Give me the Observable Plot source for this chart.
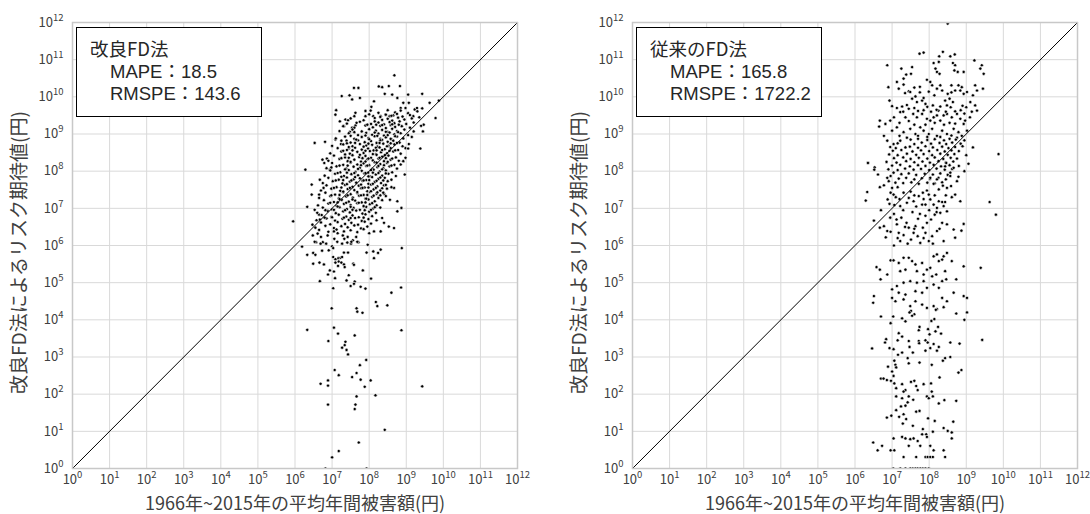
<!DOCTYPE html>
<html><head><meta charset="utf-8">
<script src="https://cdn.jsdelivr.net/npm/d3@7"></script>
<script src="https://cdn.jsdelivr.net/npm/@observablehq/plot@0.6"></script>
<style>
body{margin:0;background:#fff;}
#wrap{position:relative;width:1090px;height:514px;display:flex;overflow:hidden;}
.box{position:absolute;top:27px;width:186px;height:90px;box-sizing:border-box;border:1.5px solid #000;background:#fff;
 font-family:"Noto Sans CJK JP",sans-serif;font-size:18.5px;line-height:22px;color:#262626;padding:9px 0 0 13px;}
.box .ind{padding-left:20px;font-family:"Liberation Sans","Noto Sans CJK JP",sans-serif;}
.box .ind.first{margin-top:2px;}
</style></head>
<body><div id="wrap"></div>
<script>
// ---- data: [log10(平均年間被害額), log10(リスク期待値)] ----
const tickExponents = [0,1,2,3,4,5,6,7,8,9,10,11,12];
const xTitle = "1966年~2015年の平均年間被害額(円)";
const yTitle = "改良FD法によるリスク期待値(円)";
const panelTitles = ["改良FD法", "従来のFD法"];
const mapeValues = ["18.5", "165.8"];
const rmspeValues = ["143.6", "1722.2"];

const leftSparse = [[8.68,10.58],[7.59,10.24],[7.71,10.24],[8.26,10.28],[8.35,10.26],[8.53,10.29],[8.83,10.29],
[7.26,10.02],[7.47,10.04],[7.54,9.93],[7.75,9.97],[8.42,10.08],[8.62,10.06],[8.76,9.97],[9.05,10.06],[9.43,10.08],
[8.13,9.88],[8.06,9.73],[8.04,9.63],[7.11,9.64],[7.09,9.52],[7.63,9.57],[7.21,9.34],[7.36,9.39],[7.43,9.37],[7.9,9.48],
[8.11,9.48],[8.15,9.34],[8.19,9.25],[8.31,9.48],[8.44,9.52],[8.55,9.48],[8.65,9.5],[8.85,9.7],[8.98,9.7],[8.92,9.84],
[9.07,9.84],[9.23,9.66],[9.29,9.7],[9.43,9.69],[9.19,9.48],[9.47,9.25],[9.45,9.07],[9.79,9.43],[9.63,9.84],[9.88,9.9],
[9.38,8.61],[9.07,8.73],[8.98,8.62],[6.53,8.76],[6.81,8.79],[6.74,8.31],[6.79,8.22],[6.86,8.34],[6.28,8.04],
[7.32,9.21],[7.48,9.06],[7.54,9.17],[7.63,9.23],[7.66,9.3],[7.09,8.85],[7.24,8.73],[7.39,8.82],[7.45,8.61],[7.27,8.54],
[6.94,8.04],[6.98,8.1],[6.67,7.77],[6.45,7.64],[6.45,7.37],[6.65,7.37],[6.77,7.55],
[6.33,7.04],[6.53,6.96],[6.47,6.56],[6.65,6.83],[6.67,6.7],[5.95,6.65],
[6.19,5.97],[6.33,5.75],[6.49,5.8],[6.55,5.75],[6.73,5.86],
[8.67,7.55],[8.56,7.23],[8.41,7.38],
[8.53,6.51],[8.67,6.47],[8.35,6.74],[8.4,6.61],[8.13,6.38],[8.31,6.38],[7.96,6.02],[8.11,5.84],[8.31,5.89],[8.24,5.8],
[8.85,8.18],[8.96,7.91],[8.98,8.36],[8.92,8.27],[8.76,6.92],[8.87,7.01],[8.76,7.19],[8.88,5.93]];

const leftCore = [[7.9,9.62],[8.25,9.57],[8.5,9.64],[8.7,9.58],[8.85,9.63],[9.05,9.56],[9.3,9.61],
[7.6,9.48],[8.0,9.53],[8.3,9.46],[8.45,9.52],[8.6,9.49],[8.75,9.54],[8.9,9.47],[9.1,9.51],[9.35,9.45],
[7.5,9.42],[7.85,9.37],[8.15,9.43],[8.35,9.38],[8.5,9.41],[8.62,9.36],[8.78,9.44],[8.95,9.39],[9.15,9.42],
[7.4,9.28],[7.75,9.33],[8.05,9.27],[8.25,9.31],[8.4,9.26],[8.55,9.32],[8.68,9.29],[8.82,9.34],[9.0,9.27],[9.2,9.31],
[7.3,9.21],[7.6,9.17],[7.9,9.23],[8.1,9.18],[8.3,9.22],[8.45,9.16],[8.58,9.24],[8.7,9.19],[8.88,9.21],[9.1,9.17],[9.4,9.22],
[7.2,9.08],[7.55,9.12],[7.8,9.07],[8.0,9.13],[8.18,9.09],[8.35,9.11],[8.5,9.06],[8.62,9.14],[8.75,9.08],[8.95,9.12],[9.2,9.07],
[7.45,9.02],[7.7,8.97],[7.92,9.03],[8.08,8.98],[8.25,9.01],[8.4,8.96],[8.55,9.04],[8.68,8.99],[8.85,9.02],[9.05,8.97],
[7.1,8.88],[7.35,8.93],[7.6,8.87],[7.8,8.92],[7.98,8.89],[8.15,8.94],[8.3,8.87],[8.45,8.91],[8.6,8.86],[8.75,8.93],[8.92,8.88],[9.15,8.92],
[7.25,8.82],[7.5,8.77],[7.7,8.83],[7.88,8.78],[8.05,8.81],[8.2,8.76],[8.35,8.84],[8.5,8.79],[8.65,8.82],[8.82,8.77],
[7.0,8.68],[7.3,8.72],[7.55,8.67],[7.75,8.73],[7.92,8.69],[8.08,8.71],[8.22,8.66],[8.38,8.74],[8.52,8.68],[8.68,8.72],[8.9,8.67],
[7.15,8.62],[7.4,8.57],[7.62,8.63],[7.8,8.58],[7.97,8.61],[8.12,8.56],[8.28,8.64],[8.42,8.59],[8.58,8.62],[8.78,8.57],[9.05,8.61],
[6.95,8.48],[7.25,8.53],[7.48,8.47],[7.68,8.52],[7.85,8.49],[8.02,8.54],[8.18,8.46],[8.32,8.51],[8.48,8.48],[8.65,8.53],[8.85,8.47],
[7.05,8.42],[7.35,8.37],[7.55,8.43],[7.73,8.38],[7.9,8.41],[8.05,8.36],[8.2,8.44],[8.35,8.39],[8.52,8.42],[8.72,8.37],
[6.9,8.28],[7.2,8.33],[7.42,8.27],[7.6,8.31],[7.78,8.26],[7.95,8.32],[8.1,8.29],[8.25,8.34],[8.4,8.27],[8.58,8.31],[8.8,8.28],
[7.0,8.22],[7.3,8.17],[7.5,8.23],[7.68,8.18],[7.85,8.21],[8.0,8.16],[8.15,8.24],[8.3,8.19],[8.48,8.22],[8.68,8.17],
[6.85,8.08],[7.12,8.13],[7.38,8.07],[7.58,8.12],[7.75,8.09],[7.92,8.14],[8.08,8.06],[8.22,8.11],[8.38,8.08],[8.55,8.13],[8.75,8.07],
[6.95,8.02],[7.22,7.97],[7.45,8.03],[7.63,7.98],[7.8,8.01],[7.97,7.96],[8.12,8.04],[8.28,7.99],[8.45,8.02],[8.62,7.97],
[6.8,7.88],[7.08,7.93],[7.32,7.87],[7.52,7.92],[7.7,7.89],[7.87,7.94],[8.02,7.86],[8.18,7.91],[8.35,7.88],[8.52,7.93],[8.72,7.87],
[6.9,7.82],[7.18,7.77],[7.4,7.83],[7.58,7.78],[7.75,7.81],[7.92,7.76],[8.08,7.84],[8.25,7.79],[8.42,7.82],[8.6,7.77],
[6.75,7.68],[7.02,7.73],[7.28,7.67],[7.48,7.72],[7.65,7.69],[7.82,7.74],[7.98,7.66],[8.15,7.71],[8.32,7.68],[8.5,7.73],
[6.85,7.62],[7.12,7.57],[7.35,7.63],[7.55,7.58],[7.72,7.61],[7.88,7.56],[8.05,7.64],[8.22,7.59],[8.4,7.62],[8.6,7.57],
[6.7,7.48],[6.98,7.53],[7.22,7.47],[7.42,7.52],[7.6,7.49],[7.78,7.54],[7.95,7.46],[8.12,7.51],[8.3,7.48],[8.48,7.53],
[6.82,7.42],[7.08,7.37],[7.3,7.43],[7.5,7.38],[7.68,7.41],[7.85,7.36],[8.02,7.44],[8.2,7.39],[8.38,7.42],
[6.65,7.28],[6.95,7.33],[7.18,7.27],[7.38,7.32],[7.56,7.29],[7.73,7.34],[7.9,7.26],[8.08,7.31],[8.25,7.28],[8.45,7.33],
[6.78,7.22],[7.05,7.17],[7.26,7.23],[7.45,7.18],[7.62,7.21],[7.8,7.16],[7.98,7.24],[8.15,7.19],[8.35,7.22],
[6.62,7.08],[6.9,7.13],[7.12,7.07],[7.32,7.12],[7.5,7.09],[7.68,7.14],[7.85,7.06],[8.02,7.11],[8.2,7.08],
[6.75,7.02],[7.0,6.97],[7.2,7.03],[7.4,6.98],[7.58,7.01],[7.75,6.96],[7.92,7.04],[8.1,6.99],[8.3,7.02],
[6.6,6.88],[6.88,6.93],[7.1,6.87],[7.3,6.92],[7.48,6.89],[7.65,6.94],[7.82,6.86],[8.0,6.91],[8.18,6.88],
[6.72,6.82],[6.98,6.77],[7.18,6.83],[7.38,6.78],[7.55,6.81],[7.72,6.76],[7.9,6.84],[8.08,6.79],
[6.58,6.68],[6.85,6.73],[7.08,6.67],[7.28,6.72],[7.45,6.69],[7.62,6.74],[7.8,6.66],[7.98,6.71],[8.2,6.68],
[6.7,6.62],[6.95,6.57],[7.15,6.63],[7.35,6.58],[7.52,6.61],[7.7,6.56],[7.88,6.64],[8.05,6.59],
[6.55,6.48],[6.82,6.53],[7.05,6.47],[7.25,6.52],[7.42,6.49],[7.6,6.54],[7.78,6.46],[7.95,6.51],
[6.65,6.42],[6.9,6.37],[7.12,6.43],[7.32,6.38],[7.5,6.41],[7.68,6.36],[7.85,6.44],
[7.65,8.85],[8.0,8.86],[8.3,8.83],[8.58,8.87],[7.45,8.65],[7.85,8.66],[8.18,8.63],[8.48,8.67],
[7.35,8.45],[7.75,8.44],[8.1,8.46],[8.42,8.43],[7.5,8.25],[7.9,8.26],[8.2,8.23],[8.5,8.25],
[7.35,8.05],[7.7,8.06],[8.05,8.03],[8.35,8.05],[7.25,7.85],[7.62,7.84],[7.98,7.86],[8.3,7.83],
[7.4,7.65],[7.78,7.64],[8.1,7.66],[8.45,7.63],[7.3,7.45],[7.68,7.44],[8.05,7.46],[8.22,7.43],
[7.2,7.25],[7.55,7.24],[7.92,7.26],[7.15,7.05],[7.5,7.04],[7.85,7.06],[8.15,7.03]];

const leftDense = [[7.95,9.25],[8.35,9.24],[8.62,9.26],[8.8,9.25],[7.6,9.05],[8.15,9.04],[8.45,9.06],[8.78,9.05],
[7.5,8.95],[7.9,8.96],[8.22,8.95],[8.5,8.97],[8.7,8.94],[7.4,8.75],[7.62,8.76],[7.98,8.74],[8.28,8.76],[8.58,8.75],[8.75,8.76],
[7.3,8.55],[7.55,8.56],[7.9,8.55],[8.2,8.56],[8.35,8.57],[8.55,8.55],[8.7,8.56],
[7.25,8.35],[7.45,8.36],[7.82,8.35],[7.98,8.34],[8.28,8.36],[8.45,8.35],[8.62,8.34],
[7.2,8.15],[7.42,8.15],[7.78,8.16],[7.95,8.15],[8.25,8.14],[8.4,8.16],[8.6,8.15],
[7.15,7.95],[7.4,7.96],[7.6,7.95],[7.9,7.95],[8.1,7.96],[8.25,7.95],[8.45,7.94],
[7.1,7.75],[7.3,7.76],[7.52,7.75],[7.85,7.75],[8.0,7.76],[8.2,7.74],[8.38,7.75],
[7.05,7.55],[7.25,7.56],[7.48,7.55],[7.82,7.55],[7.98,7.56],[8.18,7.55],[8.35,7.54],
[6.98,7.35],[7.2,7.36],[7.42,7.35],[7.78,7.35],[7.95,7.36],[8.12,7.34],[8.3,7.35],
[6.95,7.15],[7.15,7.16],[7.38,7.15],[7.72,7.15],[7.9,7.16],[8.08,7.14],
[6.82,6.95],[7.05,6.96],[7.35,6.95],[7.55,6.96],[7.88,6.95],[8.05,6.96],
[6.8,6.75],[7.0,6.76],[7.32,6.75],[7.5,6.74],[7.85,6.75]];

const leftLow = [[6.48,6.27],[6.61,6.32],[6.70,6.23],[6.88,6.27],[7.05,6.38],[7.15,6.33],[7.29,6.27],[7.42,6.23],[7.56,6.14],[7.65,6.23],
[6.57,6.09],[6.75,6.09],[6.84,6.05],[7.06,6.18],[7.33,6.18],[7.51,6.05],[7.71,6.09],[8.0,6.33],
[6.53,6.10],[6.69,6.05],[7.0,5.98],[7.14,6.10],[7.27,6.05],[7.41,6.08],[7.52,6.10],[7.68,6.10],
[6.91,5.87],[7.03,5.93],[7.32,5.81],[7.43,5.81],[7.93,5.81],[8.13,5.66],
[7.03,5.69],[7.09,5.63],[7.17,5.66],[7.23,5.67],[7.09,5.54],[7.18,5.57],[7.25,5.54],[7.16,5.45],[7.32,5.49],[7.34,5.42],[7.27,5.69],
[6.49,5.51],[6.66,5.54],[6.78,5.49],[6.94,5.33],[6.89,5.22],[7.05,5.30],[7.08,5.12],[7.57,5.51],[7.59,5.48],[7.45,5.20],[7.39,5.06],
[7.61,5.03],[7.59,4.97],[7.50,4.91],[7.77,4.89],[7.90,4.84],[7.83,5.33],[8.05,5.11],[6.67,5.04],[7.03,4.85],
[8.60,4.73],[8.86,4.87],[8.18,4.48],[8.22,4.37],[8.49,4.39],[6.99,4.31],[7.66,4.31],[7.68,4.22],[7.82,4.19],
[6.33,3.73],[8.87,3.72],[7.05,3.79],[7.16,3.63],[6.90,3.43],[7.61,3.58],[7.36,3.41],[7.34,3.32],[7.27,3.25],[7.39,3.19],[7.43,3.07],
[7.92,2.92],[7.75,2.78],[7.66,2.57],[7.07,2.65],[7.18,2.51],[7.54,2.46],[7.77,2.39],[8.04,2.37],[6.69,2.28],[6.89,2.37],[6.89,2.23],[7.88,2.20],
[9.43,2.21],[7.66,1.94],[8.17,1.97],[6.89,1.72],[7.63,1.72],[7.61,1.60],[8.42,1.04],[7.72,0.70],[7.18,0.47],[7.0,0.30],
[6.82,0],[7.93,0]];

const rightUpper = [[8.50,11.97],[7.74,11.16],[7.85,11.19],[8.37,11.21],[8.27,11.09],[8.57,11.09],[8.69,11.14],
[9.22,10.98],[9.42,10.85],[9.38,10.76],[6.87,10.85],[7.25,10.76],[7.38,10.60],[7.54,10.80],[7.51,10.62],[7.31,10.49],[7.13,10.40],
[8.12,10.91],[8.26,10.94],[8.17,10.76],[8.21,10.67],[8.28,10.62],[8.64,10.91],[8.70,10.85],[8.77,10.67],[8.68,10.71],[8.93,10.67],[9.47,10.62],
[6.90,10.26],[6.93,9.90],[7.18,10.22],[7.31,10.33],[7.45,10.15],[7.49,10.13],[7.63,10.01],[7.67,9.86],[7.54,9.95],
[7.94,10.46],[8.03,10.40],[8.08,10.31],[7.99,10.14],[8.21,10.22],[8.30,10.31],[8.35,10.17],[8.14,10.04],
[8.60,10.31],[8.70,10.17],[8.79,10.31],[8.88,10.26],[8.93,10.08],[8.84,10.17],[9.02,10.13],[9.18,10.04],
[9.24,10.31],[9.29,10.17],[9.45,10.22],[7.81,9.90],[7.90,9.81],[7.85,9.97],
[8.43,9.90],[8.48,9.77],[8.55,9.95],[8.64,9.86],[8.58,9.72],[9.11,9.86],[9.24,9.77],[9.29,9.63],
[7.13,9.70],[7.27,9.74],[7.22,9.59],[7.36,9.45],[7.45,9.68],[7.57,9.54],[6.67,9.36],[6.82,9.27],[6.65,9.20],[6.95,9.36],
[7.67,9.45],[7.81,9.54],[7.94,9.41],[8.03,9.36],[8.12,9.45],[8.21,9.50],[8.30,9.36],[8.39,9.50],[8.48,9.54],[8.61,9.45],[8.75,9.54],[8.84,9.41],[8.97,9.36],
[7.0,9.09],[7.13,9.18],[7.31,9.05],[7.49,9.14],[7.63,9.0],[7.76,9.18],[7.85,9.09],[7.99,9.0],[8.08,9.14],[8.21,8.95],[8.35,9.09],[8.48,9.0],[8.66,9.14],[8.79,9.05],[8.88,8.95],[9.02,9.09],[8.93,9.27],
[6.78,8.95],[6.87,8.82],[7.04,8.73],[7.22,8.82],[7.36,8.64],[9.18,8.64],[9.87,8.46],[6.35,8.23],[6.53,8.10],
[7.6,10.25],[7.75,10.27],[7.35,10.1],[7.75,10.12],[8.5,10.08],[8.6,10.12],
[7.0,9.75],[7.4,9.78],[7.95,9.73],[8.1,9.77],[8.3,9.74],[8.9,9.76],[9.0,9.72],[7.7,9.62],[7.85,9.64],[8.05,9.6],[8.25,9.63],[8.7,9.61],[8.85,9.64],
[7.05,9.45],[7.2,9.3],[7.45,9.35],[7.6,9.25],[7.9,9.25],[8.15,9.3],[8.4,9.25],[8.55,9.3],[8.7,9.28],[9.1,9.45],
[7.2,8.95],[7.4,8.9],[7.7,8.95],[7.95,8.92],[8.3,8.92],[8.6,8.96],[8.75,8.9],
[7.3,9.6],[7.6,9.7],[8.2,9.65],[8.45,9.6],[8.95,9.55],[9.15,9.6]];

const rightCore = [[7.5,8.85],[7.7,8.87],[7.95,8.84],[8.15,8.86],[8.4,8.83],[8.55,8.87],[8.72,8.85],[8.95,8.83],
[7.15,8.75],[7.6,8.73],[7.8,8.77],[8.05,8.74],[8.28,8.76],[8.46,8.73],[8.62,8.77],[8.85,8.74],
[6.95,8.65],[7.1,8.62],[7.48,8.66],[7.7,8.63],[7.9,8.67],[8.1,8.64],[8.35,8.66],[8.52,8.62],[8.7,8.65],[8.9,8.67],
[7.02,8.55],[7.25,8.57],[7.55,8.53],[7.78,8.56],[8.0,8.54],[8.22,8.57],[8.42,8.53],[8.6,8.56],[8.8,8.54],
[6.92,8.45],[7.15,8.43],[7.4,8.47],[7.65,8.44],[7.85,8.46],[8.08,8.43],[8.3,8.47],[8.5,8.44],[8.68,8.46],[9.0,8.43],
[7.05,8.35],[7.3,8.37],[7.5,8.33],[7.72,8.36],[7.95,8.34],[8.15,8.37],[8.38,8.33],[8.58,8.36],[8.75,8.34],
[6.85,8.25],[7.12,8.23],[7.38,8.27],[7.6,8.24],[7.82,8.26],[8.02,8.23],[8.25,8.27],[8.45,8.24],[8.65,8.26],
[7.0,8.15],[7.22,8.17],[7.48,8.13],[7.7,8.16],[7.9,8.14],[8.12,8.17],[8.32,8.13],[8.55,8.16],[8.8,8.14],
[6.9,8.05],[7.15,8.03],[7.35,8.07],[7.58,8.04],[7.78,8.06],[8.0,8.03],[8.2,8.07],[8.42,8.04],[8.62,8.06],
[7.25,7.92],[7.45,7.94],[7.65,7.9],[7.88,7.93],[8.1,7.91],[8.3,7.94],[8.5,7.9],
[7.18,7.8],[7.38,7.82],[7.6,7.78],[7.8,7.81],[8.02,7.79],[8.25,7.82],[8.45,7.78],
[7.3,7.68],[7.52,7.7],[7.72,7.66],[7.95,7.69],[8.15,7.67],[8.35,7.7]];

const rightMid = [[6.35,8.22],[6.52,8.04],[6.62,7.91],[6.67,7.57],[6.78,7.62],[6.33,7.44],[6.29,7.21],
[6.87,7.82],[6.91,7.73],[6.96,7.87],[7.04,7.96],[7.09,7.69],[7.15,7.57],[7.0,7.55],[6.96,7.42],[7.04,7.37],[6.88,7.24],[6.93,7.12],[7.06,7.09],[7.22,7.06],
[7.31,7.42],[7.45,7.28],[7.58,7.19],[7.72,7.33],[7.83,7.42],[7.94,7.48],[7.99,7.37],[8.03,7.24],[7.81,7.10],[7.90,7.10],[8.12,7.10],[8.26,7.19],[8.35,7.17],[8.43,7.17],
[8.21,7.01],[8.30,6.88],[8.39,7.06],[8.48,6.92],[8.61,7.30],[8.70,7.37],[8.84,7.19],[8.93,6.58],[8.87,6.40],[8.66,6.43],[8.70,6.21],
[9.63,7.17],[9.80,6.83],[9.06,8.20],[8.95,8.0],[8.79,7.85],[8.75,7.73],[8.59,7.60],[8.48,7.55],[8.37,7.61],[8.21,7.78],[8.12,7.66],[8.03,7.82],[8.26,7.51],[8.57,7.96],[8.66,8.09],[8.43,8.13],[8.57,7.87],[8.46,8.22],
[6.51,6.67],[6.67,6.48],[6.78,6.52],[6.87,6.39],[6.83,6.22],[6.96,6.37],[7.12,6.70],[7.13,6.57],[7.18,6.34],[7.22,6.12],[7.31,6.28],[7.39,6.61],[7.45,6.48],[7.51,6.16],
[7.58,6.34],[7.63,6.52],[7.69,6.25],[7.76,6.07],[7.83,6.48],[7.90,6.34],[7.94,6.61],[7.99,6.12],[8.08,6.25],[8.15,6.83],[8.21,6.39],[8.35,6.61],[8.39,6.12],[8.48,6.57],
[7.05,6.85],[7.25,6.75],[7.55,6.9],[7.7,6.72],[7.42,6.05],[7.05,6.0],[7.3,6.95],[8.05,6.7],[8.28,6.45],[7.85,6.2],[8.0,6.95],[7.6,6.45],[7.15,6.2],[6.95,6.75],[8.1,6.05],[7.75,6.85],[7.35,6.5],[7.9,6.8],[8.2,6.9],[6.7,6.95],
[7.2,7.25],[7.4,7.15],[7.65,7.05],[7.5,7.45],[7.1,7.3],[7.85,7.25],[8.15,7.35],[8.45,7.35],[7.6,7.35]];

const rightLow = [[6.58,5.42],[6.67,5.35],[6.69,5.09],[6.87,5.22],[6.96,5.60],[7.04,5.60],[7.18,5.53],[7.22,5.31],[7.36,5.35],[7.31,5.67],[7.45,5.67],[7.54,5.58],[7.63,5.49],[7.81,5.53],
[7.67,5.31],[7.85,5.22],[7.94,5.35],[8.03,5.40],[8.12,5.71],[8.21,5.76],[8.26,5.58],[8.35,5.62],[8.39,5.71],[8.48,5.80],[8.61,5.58],[8.43,5.31],[8.19,5.22],[8.08,5.17],
[7.85,5.04],[7.67,5.0],[7.49,5.04],[7.31,5.0],[7.13,4.91],[7.0,4.82],[7.18,4.73],[7.36,4.68],[7.63,4.77],[7.81,4.73],[7.94,4.86],[8.12,4.95],[8.26,4.86],[8.35,5.04],[8.46,5.09],
[8.93,4.64],[6.51,4.64],[6.49,4.46],[7.0,4.59],[7.09,4.50],[7.31,4.55],[7.49,4.37],[7.63,4.50],[7.81,4.41],[7.94,4.32],[8.12,4.37],[8.39,4.34],[8.48,4.50],[8.35,4.59],
[8.66,4.73],[8.73,5.09],[9.02,4.59],[8.93,5.44],[9.39,5.40],
[8.21,4.29],[7.51,4.24],[7.60,4.15],[7.47,4.20],[7.54,4.11],
[6.70,4.09],[7.03,4.09],[6.96,3.91],[7.27,4.04],[7.36,3.96],[8.06,3.97],[8.14,4.02],[8.18,4.27],[8.73,4.17],[9.02,4.20],[8.95,4.0],[9.43,3.46],
[7.74,3.81],[7.72,3.72],[7.97,3.75],[8.01,3.61],[8.17,3.69],[8.24,3.81],[8.32,3.63],[7.18,3.64],[7.27,3.55],[7.15,3.45],[7.45,3.43],[7.72,3.43],[7.90,3.45],[7.96,3.39],
[8.12,3.35],[8.26,3.27],[8.21,3.17],[8.03,3.24],[7.90,3.17],[7.73,3.37],[7.47,3.27],[7.56,3.12],[8.57,3.39],[8.82,3.36],[6.84,3.48],[6.81,3.39],[6.93,3.24],[7.04,3.21],[6.46,3.23],[7.16,3.06],[7.27,3.12],
[7.42,2.97],[7.45,2.83],[7.74,2.85],[8.07,2.79],[8.37,2.90],[8.43,2.97],[8.57,3.0],[7.06,2.90],[7.09,2.79],[7.11,2.72],[6.89,2.74],[7.0,2.61],[7.04,2.49],[6.70,2.42],[6.77,2.42],
[6.86,2.38],[6.97,2.36],[7.06,2.29],[7.11,2.16],[7.27,2.27],[7.51,2.33],[7.60,2.36],[7.65,2.22],[7.69,2.11],[7.36,2.11],[7.31,2.07],[7.85,2.27],[8.05,2.29],[8.07,2.07],[8.28,2.45],[8.79,2.58],[8.87,2.65],
[7.11,1.94],[7.27,1.89],[7.45,1.94],[7.57,1.85],[7.42,1.78],[7.36,1.69],[7.24,1.67],[7.11,1.57],[7.31,1.46],[7.38,1.33],[7.29,1.21],[7.65,1.53],[7.74,1.55],[7.94,1.94],[7.99,1.89],
[8.10,1.94],[8.26,1.75],[8.41,1.84],[8.73,1.82],[6.86,1.37],[6.98,1.42],[7.19,1.39],[7.56,1.15],[7.97,1.35],[8.15,1.28],[8.65,1.26],
[7.83,1.06],[7.81,0.92],[7.92,0.92],[7.94,0.85],[8.10,0.99],[8.39,1.09],[8.50,1.01],[8.61,0.97],[8.61,0.81],[7.04,0.81],[7.27,0.85],[7.36,0.81],[7.58,0.81],[7.49,0.79],
[6.49,0.70],[6.73,0.61],[6.61,0.49],[6.96,0.49],[7.06,0.49],[7.45,0.61],[7.76,0.61],[8.03,0.61],[8.12,0.49],[8.39,0.49],[7.31,0.31],[7.65,0.31],[7.90,0.31],[7.96,0.31],[8.03,0.31],[8.10,0.31],[8.43,0.31],[7.69,0.74],
[7.03,0],[7.22,0],[7.36,0],[7.49,0],[7.56,0],[7.63,0],[7.69,0],[7.76,0],[7.83,0],[7.90,0],[7.99,0]];

// ---- build ----
const toRows = arr => arr.map(([a, b]) => ({x: 10 ** a, y: 10 ** b}));
const leftData = toRows([...leftSparse, ...leftCore, ...leftDense, ...leftLow]);
const rightData = toRows([...rightUpper, ...rightCore, ...rightMid, ...rightLow]);
const tickValues = tickExponents.map(e => 10 ** e);
const diag = [tickValues[0], tickValues[tickValues.length - 1]];
const FONT = "Noto Sans CJK JP, Noto Sans, sans-serif";
const fmt = d => "10^" + Math.round(Math.log10(d));

function panel(data, marginLeft, marginRight) {
  return Plot.plot({
    width: 545, height: 514,
    marginLeft, marginRight, marginTop: 22, marginBottom: 46,
    style: {fontFamily: FONT, background: "white", overflow: "visible"},
    x: {type: "log", domain: [1, 1e12], axis: null, label: null},
    y: {type: "log", domain: [1, 1e12], axis: null, label: null},
    marks: [
      Plot.gridX(tickValues, {stroke: "#d9d9d9", strokeOpacity: 1, strokeWidth: 1}),
      Plot.gridY(tickValues, {stroke: "#d9d9d9", strokeOpacity: 1, strokeWidth: 1}),
      Plot.dot(data, {x: "x", y: "y", r: 1.6, fill: "#000", stroke: "#fff", strokeWidth: 0.6, clip: true}),
      Plot.line(diag, {x: d => d, y: d => d, stroke: "#000", strokeWidth: 1}),
      Plot.frame({stroke: "#c8c8c8", strokeWidth: 1.5}),
      Plot.axisX(tickValues, {label: null, tickSize: 0, tickPadding: 6, tickFormat: fmt, fontSize: 13, fill: "#404040"}),
      Plot.axisY(tickValues, {label: null, tickSize: 0, tickPadding: 9, tickFormat: fmt, fontSize: 13, fill: "#404040"}),
      Plot.text([yTitle], {frameAnchor: "left", dx: -53, dy: 7, rotate: -90, textAnchor: "middle", lineAnchor: "middle", fontSize: 19, fill: "#404040", text: d => d}),
      Plot.text([xTitle], {frameAnchor: "bottom", dy: 36, lineAnchor: "middle", fontSize: 18, fill: "#404040", text: d => d})
    ]
  });
}

function superscripts(svg) {
  d3.select(svg).selectAll("text").each(function () {
    const m = /^10\^(\d+)$/.exec(this.textContent);
    if (!m) return;
    const t = d3.select(this);
    t.text("");
    t.append("tspan").text("10");
    t.append("tspan").attr("dy", "-6").attr("font-size", "9.5px").text(m[1]);
  });
}

const wrap = document.getElementById("wrap");
const s1 = panel(leftData, 72, 28);
const s2 = panel(rightData, 87, 13);
superscripts(s1); superscripts(s2);
wrap.append(s1, s2);

[[76, 0], [636, 1]].forEach(([left, i]) => {
  const b = document.createElement("div");
  b.className = "box";
  b.style.left = left + "px";
  b.innerHTML = `<div>${panelTitles[i]}</div><div class="ind first">MAPE：${mapeValues[i]}</div><div class="ind">RMSPE：${rmspeValues[i]}</div>`;
  wrap.append(b);
});
</script></body></html>
